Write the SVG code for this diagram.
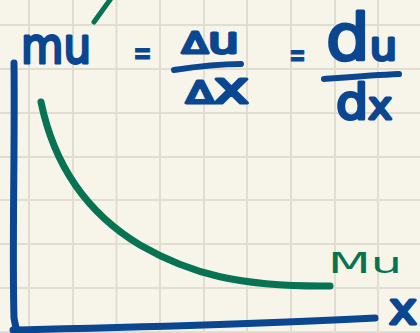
<svg xmlns="http://www.w3.org/2000/svg" width="420" height="333" viewBox="0 0 420 333">
  <style>
    .grid { stroke: #e1ded1; stroke-width: 2; }
    .blue { stroke: #0b4690; fill: none; stroke-linecap: round; stroke-linejoin: round; }
    .green { stroke: #077352; fill: none; stroke-linecap: round; stroke-linejoin: round; }
    .bt { fill: #0b4690; stroke: #0b4690; stroke-width: 3; stroke-linejoin: round; stroke-linecap: round; font-family: "DejaVu Sans", sans-serif; }
    .eq { fill: #0b4690; stroke: #0b4690; stroke-width: 1; stroke-linejoin: round; font-family: "DejaVu Sans", sans-serif; font-weight: bold; }
    .gt { fill: #077352; font-family: "DejaVu Sans", sans-serif; }
  </style>
  <rect width="420" height="333" fill="#f7f5ea"/>
  <g id="grid">
    <path class="grid" d="M29,0V333M73,0V333M116.5,0V333M160,0V333M204,0V333M247,0V333M291,0V333M335,0V333M378,0V333M0,25H420M0,69H420M0,113H420M0,157H420M0,200H420M0,244H420M0,288H420M0,332H420"/>
  </g>
  <g id="connectors">
    <path id="y-axis" class="blue" stroke-width="7" d="M14,63 C15,150 12,250 14,318 L16,328"/>
    <path id="x-axis" class="blue" stroke-width="7" d="M13,330 C100,328 250,325 375,318"/>
    <path id="curve" class="green" stroke-width="7" d="M41,102 C55,170 90,215 140,245 C190,274 240,287 330,286"/>
    <path id="tick" class="green" stroke-width="5" d="M94,22 L112,-3"/>
  </g>
  <g id="label-mu"><text class="bt" x="21" y="63" font-size="50" textLength="70" lengthAdjust="spacingAndGlyphs">mu</text></g>
  <g id="eq1"><text class="eq" x="133" y="63" font-size="30" textLength="19" lengthAdjust="spacingAndGlyphs">=</text></g>
  <g id="frac-delta">
    <text class="bt" x="182" y="53" textLength="57" lengthAdjust="spacingAndGlyphs"><tspan font-size="28">Δ</tspan><tspan font-size="36">u</tspan></text>
    <path class="blue" stroke-width="6" d="M174,70 C200,66 220,64 241,64"/>
    <text class="bt" x="186" y="103" textLength="63" lengthAdjust="spacingAndGlyphs"><tspan font-size="30">Δ</tspan><tspan font-size="44">x</tspan></text>
  </g>
  <g id="eq2"><text class="eq" x="289" y="65" font-size="30" textLength="17" lengthAdjust="spacingAndGlyphs">=</text></g>
  <g id="frac-d">
    <text class="bt" x="326" y="60" textLength="71" lengthAdjust="spacingAndGlyphs"><tspan font-size="64">d</tspan><tspan font-size="40">u</tspan></text>
    <path class="blue" stroke-width="6" d="M324,79 C350,77 375,75 399,74"/>
    <text class="bt" x="336" y="119" textLength="56" lengthAdjust="spacingAndGlyphs"><tspan font-size="48">d</tspan><tspan font-size="38">x</tspan></text>
  </g>
  <g id="label-Mu"><text class="gt" x="328" y="273" font-size="28" textLength="74" lengthAdjust="spacingAndGlyphs">Mu</text></g>
  <g id="label-x"><text class="bt" x="389" y="324" font-size="44" textLength="28" lengthAdjust="spacingAndGlyphs">x</text></g>
</svg>
